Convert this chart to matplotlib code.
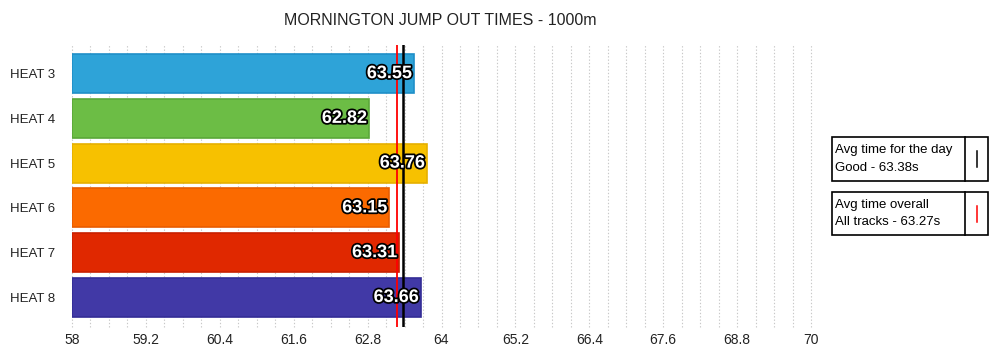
import numpy as np
import matplotlib
matplotlib.use('Agg')
import matplotlib.pyplot as plt
import matplotlib.patheffects as pe
from matplotlib.patches import Rectangle
from matplotlib.lines import Line2D

plt.rcParams['font.family'] = ['Liberation Sans', 'DejaVu Sans']

heats = ['HEAT 3', 'HEAT 4', 'HEAT 5', 'HEAT 6', 'HEAT 7', 'HEAT 8']
times = [63.55, 62.82, 63.76, 63.15, 63.31, 63.66]
colors = ['#2ea3d8', '#6cbd45', '#f7c100', '#fb6a00', '#e02800', '#4139a6']
edge_colors = ['#1f8fc8', '#5aa838', '#e6b000', '#e85c00', '#c82000', '#332c96']

avg_day = 63.38
avg_all = 63.27
legend_texts = ['Avg time for the day\nGood - 63.38s', 'Avg time overall\nAll tracks - 63.27s']
legend_colors = ['black', 'red']

xmin, xmax = 58, 70
major_ticks = [58, 59.2, 60.4, 61.6, 62.8, 64, 65.2, 66.4, 67.6, 68.8, 70]

fig = plt.figure(figsize=(10, 3.63), dpi=100)
ax = fig.add_axes([0.072, 0.0992, 0.739, 0.7769])

y = np.arange(len(heats))
ax.barh(y, [t - xmin for t in times], left=xmin, height=0.87,
        color=colors, edgecolor=edge_colors, linewidth=1.2, zorder=2)

for yi, t in zip(y, times):
    ax.text(t - 0.03, yi, '%.2f' % t, ha='right', va='center', color='white',
            fontsize=13, fontweight='bold', zorder=5,
            path_effects=[pe.withStroke(linewidth=2.5, foreground='black')])

ax.axvline(avg_all, color='red', lw=1.3, zorder=4)
ax.axvline(avg_day, color='black', lw=1.8, zorder=4)

# dotted grid every 0.3
for gx in np.linspace(xmin, xmax, 41):
    ax.axvline(gx, color='#c8c8c8', lw=0.8, ls=(0, (1.2, 1.8)), zorder=1, clip_on=False)

ax.set_xlim(xmin, xmax)
ax.set_ylim(5.66, -0.64)
ax.set_xticks(major_ticks)
ax.set_xticklabels(['%g' % v for v in major_ticks], fontsize=10, color='#222222')
ax.set_yticks(y)
ax.set_yticklabels(heats, fontsize=9.5, color='#222222')
ax.tick_params(length=0)
ax.tick_params(axis='x', pad=4)
ax.tick_params(axis='y', pad=12)
for s in ax.spines.values():
    s.set_visible(False)

fig.text(0.44, 0.943, 'MORNINGTON JUMP OUT TIMES - 1000m', ha='center', va='center',
         fontsize=11.5, color='#222222')

# legend boxes on the right
W, H = 1000.0, 363.0
boxes = [(832, 137, 988, 181), (832, 192, 988, 235)]
div_x = 965
for (x0, y0, x1, y1), txt, lc in zip(boxes, legend_texts, legend_colors):
    fig.patches.append(Rectangle((x0 / W, 1 - y1 / H), (x1 - x0) / W, (y1 - y0) / H,
                                 transform=fig.transFigure, fill=False,
                                 edgecolor='black', lw=1.2))
    fig.lines.append(Line2D([div_x / W, div_x / W], [1 - y0 / H, 1 - y1 / H],
                            transform=fig.transFigure, color='black', lw=1.2))
    cy = (y0 + y1) / 2
    fig.lines.append(Line2D([976.5 / W, 976.5 / W], [1 - (cy - 8) / H, 1 - (cy + 8) / H],
                            transform=fig.transFigure, color=lc, lw=1.1))
    fig.text((x0 + 3) / W, 1 - cy / H, txt, ha='left', va='center', fontsize=9.5,
             linespacing=1.65, color='black')

fig.savefig('out.png', dpi=100)
